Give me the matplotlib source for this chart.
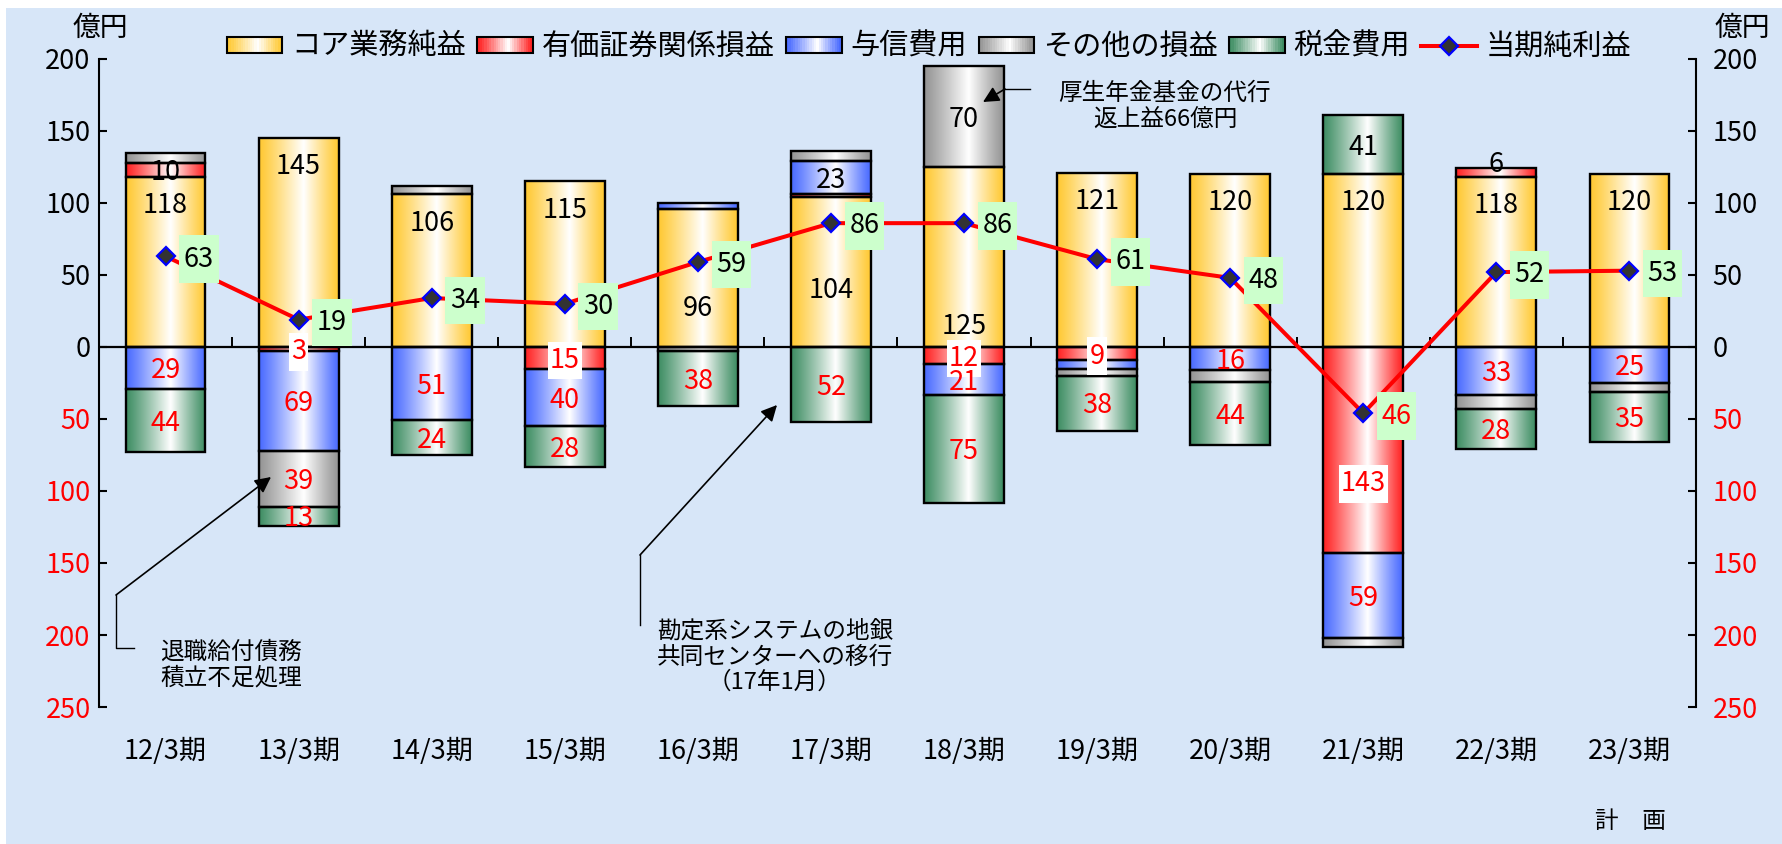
import numpy as np
import matplotlib
matplotlib.use('Agg')
import matplotlib.pyplot as plt
from matplotlib.patches import Rectangle, Patch
from matplotlib.lines import Line2D
from matplotlib.legend_handler import HandlerBase
from matplotlib.colors import to_rgb

plt.rcParams['font.family'] = ['Noto Sans CJK JP', 'DejaVu Sans']

# ---------------- data ----------------
categories = ['12/3期', '13/3期', '14/3期', '15/3期', '16/3期', '17/3期',
              '18/3期', '19/3期', '20/3期', '21/3期', '22/3期', '23/3期']
series_names = ['コア業務純益', '有価証券関係損益', '与信費用', 'その他の損益', '税金費用']
core = [118, 145, 106, 115, 96, 104, 125, 121, 120, 120, 118, 120]
securities = [10, -3, 0, -15, 0, 2, -12, -9, 0, -143, 6, 0]
credit = [-29, -69, -51, -40, 4, 23, -21, -6, -16, -59, -33, -25]
other = [7, -39, 6, 0, -3, 7, 70, -5, -8, -6, -10, -6]
tax = [-44, -13, -24, -28, -38, -52, -75, -38, -44, 41, -28, -35]
net_name = '当期純利益'
net_income = [63, 19, 34, 30, 59, 86, 86, 61, 48, -46, 52, 53]
yticks = [-250, -200, -150, -100, -50, 0, 50, 100, 150, 200]
unit = '億円'
plan_note = '計\u3000画'
note_pension = '厚生年金基金の代行\n返上益66億円'
note_retire = '退職給付債務\n積立不足処理'
note_system = '勘定系システムの地銀\n共同センターへの移行\n（17年1月）'

# ---------------- style ----------------
colors = ['#ffc933', '#ff2424', '#4a6bff', '#959595', '#3f8e64']
W, H = 1782, 844


def grad_colors(c, n=64, white_at=0.56):
    base = np.array(to_rgb(c))
    t = np.linspace(0, 1, n)
    w = np.where(t < white_at, t / white_at, (1 - t) / (1 - white_at))
    w = np.clip(w, 0, 1) ** 1.1
    return base[None, :] * (1 - w[:, None]) + w[:, None]


fig = plt.figure(figsize=(W / 100, H / 100), dpi=100)
fig.patches.append(Rectangle((6 / W, 0), 1, 1 - 8 / H, transform=fig.transFigure,
                             facecolor='#d7e6f8', edgecolor='none', zorder=-10))
ax = fig.add_axes([99 / W, 1 - 707 / H, (1696 - 99) / W, (707 - 59) / H])
ax.set_facecolor('none')

x = np.arange(len(categories))
series = [core, securities, credit, other, tax]
pos_acc = np.zeros(len(x))
neg_acc = np.zeros(len(x))
stack_info = []
for vals, col in zip(series, colors):
    v = np.array(vals, float)
    bottom = np.where(v >= 0, pos_acc, neg_acc)
    bc = ax.bar(x, v, 0.6, bottom=bottom, facecolor='none', edgecolor='black',
                linewidth=1.7, zorder=3)
    g = grad_colors(col)[None]
    for r, val in zip(bc.patches, v):
        if val == 0:
            r.set_visible(False)
            continue
        x0, w = r.get_x(), r.get_width()
        y0, h = r.get_y(), r.get_height()
        ax.imshow(g, extent=(x0, x0 + w, min(y0, y0 + h), max(y0, y0 + h)),
                  aspect='auto', interpolation='bilinear', zorder=2)
    pos_acc += np.where(v > 0, v, 0)
    neg_acc += np.where(v < 0, v, 0)
    stack_info.append((v, bottom))

ax.set_xlim(-0.5, len(x) - 0.5)
ax.set_ylim(-250, 200)

# ---------------- segment labels ----------------
label_min = [0, 3, 10, 30, 1]
core_override = {4: 29, 5: 41, 6: 16}
sec_override = {9: -93, 10: 129}
for s, (v, bottom) in enumerate(stack_info):
    for i, val in enumerate(v):
        if val == 0 or abs(val) < label_min[s]:
            continue
        yc = bottom[i] + val / 2
        if s == 0:
            yc = core_override.get(i, bottom[i] + val - 18)
        if s == 1:
            yc = sec_override.get(i, yc)
        color = 'black' if val > 0 else 'red'
        kw = {}
        if s == 1 and val < 0:
            kw['bbox'] = dict(boxstyle='square,pad=0.08', fc='white', ec='none',
                              mutation_aspect=2.5)
        ax.annotate(f'{abs(int(val))}', (i, yc), xytext=(0, -2),
                    textcoords='offset points', ha='center', va='center',
                    fontsize=19.5, color=color, zorder=5, **kw)

# ---------------- zero line and boundary ticks ----------------
ax.axhline(0, color='black', lw=1.6, zorder=4)
ax.vlines(x[:-1] + 0.5, 0, 7, color='black', lw=1.4, zorder=4)

# ---------------- net income line ----------------
ax.plot(x, net_income, color='red', lw=2.9, marker='D', ms=9.5,
        mfc='#333333', mec='blue', mew=1.6, zorder=6)
for i, val in enumerate(net_income):
    ax.annotate(f'{abs(val)}', (i, val), xytext=(24, -2), textcoords='offset points',
                ha='center', va='center', fontsize=19.5,
                color='black' if val >= 0 else 'red', zorder=7,
                bbox=dict(boxstyle='square,pad=0.17', fc='#ccffcc', ec='none',
                          mutation_aspect=2.2))

# ---------------- axes styling ----------------
for sp in ['top', 'bottom', 'right']:
    ax.spines[sp].set_visible(False)
ax.spines['left'].set_linewidth(1.5)
ax.set_xticks(x, categories, fontsize=19.5)
ax.tick_params(axis='x', length=0, pad=22)
ax.set_yticks(yticks, [str(abs(t)) for t in yticks])
ax.tick_params(axis='y', direction='in', length=6, width=1.5, labelsize=19.5, pad=6)
for t, lab in zip(yticks, ax.get_yticklabels()):
    lab.set_color('red' if t < 0 else 'black')

ax2 = ax.twinx()
ax2.set_ylim(-250, 200)
for sp in ['top', 'bottom', 'left']:
    ax2.spines[sp].set_visible(False)
ax2.spines['right'].set_linewidth(1.5)
ax2.set_yticks(yticks, [str(abs(t)) for t in yticks])
ax2.tick_params(axis='y', direction='in', length=6, width=1.5, labelsize=19.5, pad=12)
for t, lab in zip(yticks, ax2.get_yticklabels()):
    lab.set_color('red' if t < 0 else 'black')


# ---------------- annotations ----------------
def P(px, py):
    return tuple(ax.transData.inverted().transform((px, H - py)))


arrow = dict(arrowstyle='-|>', color='black', lw=1.2, mutation_scale=24,
             shrinkA=0, shrinkB=0)
# pension
ax.plot(*zip(P(1030, 89), P(1005, 89)), color='black', lw=1.0, zorder=8)
ax.annotate('', xy=P(983, 102), xytext=P(1005, 89), arrowprops=arrow, zorder=8)
ax.text(*P(1165, 106), note_pension, ha='center', va='center', fontsize=17,
        linespacing=1.15, zorder=8)
# retirement
ax.plot(*zip(P(134, 648), P(116, 648), P(116, 595)), color='black', lw=1.0, zorder=8)
ax.annotate('', xy=P(271, 477), xytext=P(116, 595), arrowprops=arrow, zorder=8)
ax.text(*P(231, 665), note_retire, ha='center', va='center', fontsize=17,
        linespacing=1.15, zorder=8)
# system
ax.plot(*zip(P(640, 625), P(640, 555)), color='black', lw=1.0, zorder=8)
ax.annotate('', xy=P(777, 405), xytext=P(640, 555), arrowprops=arrow, zorder=8)
ax.text(*P(775, 657), note_system, ha='center', va='center', fontsize=17,
        linespacing=1.15, multialignment='center', zorder=8)

fig.text(1630 / W, 1 - 822 / H, plan_note, ha='center', va='center', fontsize=17)
fig.text(100 / W, 1 - 28 / H, unit, ha='center', va='center', fontsize=20)
fig.text(1742 / W, 1 - 28 / H, unit, ha='center', va='center', fontsize=20)


# ---------------- legend ----------------
class GradHandler(HandlerBase):
    def __init__(self, color):
        super().__init__()
        self.color = color

    def create_artists(self, legend, orig_handle, xdescent, ydescent, width,
                       height, fontsize, trans):
        cols = grad_colors(self.color, 24)
        n = len(cols)
        arts = []
        for i, c in enumerate(cols):
            arts.append(Rectangle((-xdescent + width * i / n, -ydescent),
                                  width / n * 1.08, height, fc=c, ec='none',
                                  lw=0, transform=trans))
        arts.append(Rectangle((-xdescent, -ydescent), width, height, fill=False,
                              ec='black', lw=1.5, transform=trans))
        return arts


handles = [Patch() for _ in series_names]
hmap = {h: GradHandler(c) for h, c in zip(handles, colors)}
line_handle = Line2D([], [], color='red', lw=2.9, marker='D', ms=9.5,
                     mfc='#333333', mec='blue', mew=1.6)
fig.legend(handles + [line_handle], series_names + [net_name], handler_map=hmap,
           loc='center', bbox_to_anchor=(929 / W, 1 - 47 / H), ncol=6,
           frameon=False, fontsize=21, handlelength=1.9, handleheight=0.48,
           handletextpad=0.3, columnspacing=0.4, borderpad=0, borderaxespad=0)

fig.savefig('out.png', dpi=100)
